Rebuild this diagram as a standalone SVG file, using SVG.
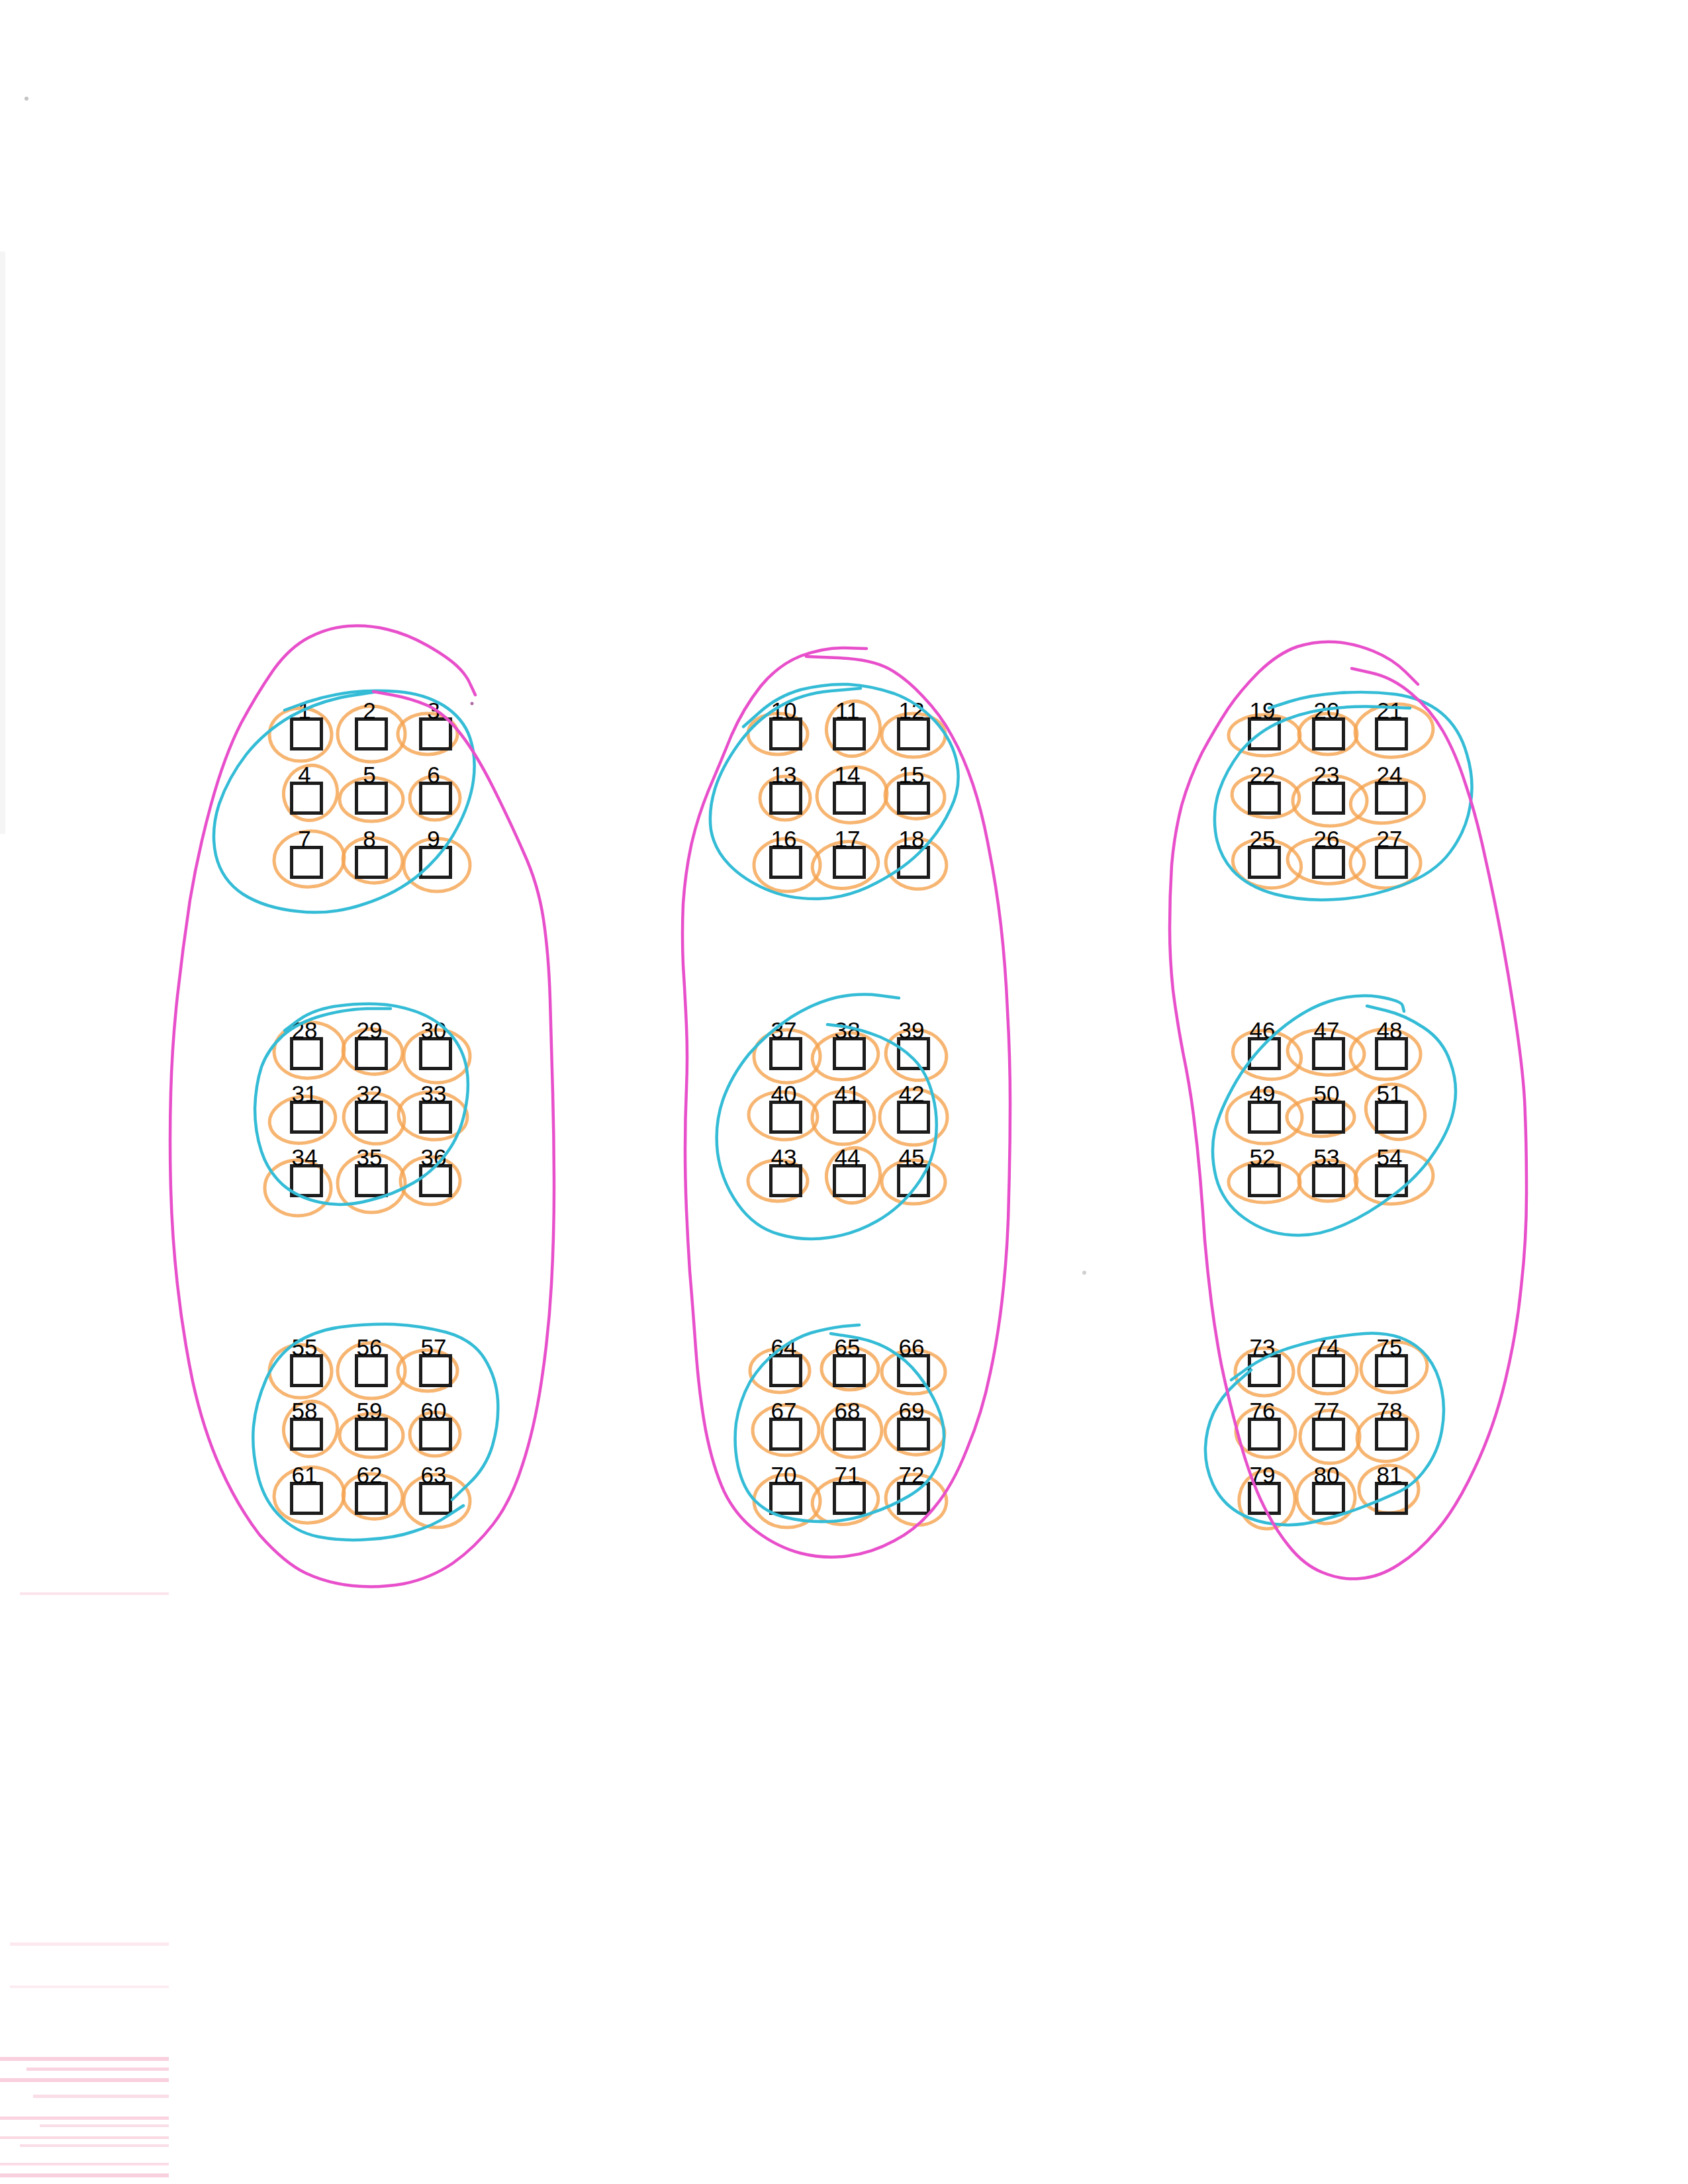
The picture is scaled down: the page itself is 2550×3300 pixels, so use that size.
<svg xmlns="http://www.w3.org/2000/svg" width="2550" height="3300" viewBox="0 0 2550 3300">
<style>
.bx{fill:none;stroke:#1c1c1c;stroke-width:5}
.lb{font-family:"Liberation Sans",Arial,sans-serif;font-size:35px;fill:#000;text-anchor:middle}
.or{fill:none;stroke:#f5a04a;stroke-width:5;stroke-opacity:.78}
.cy{fill:none;stroke:#34bcd6;stroke-width:4.5;stroke-linecap:round;stroke-linejoin:round}
.mg{fill:none;stroke:#e84fcb;stroke-width:4.5;stroke-linecap:round;stroke-linejoin:round}
.pk{fill:#f5b3c8}
</style>
<rect width="2550" height="3300" fill="#ffffff"/>

<g id="scan-marks">
<rect x="0" y="380" width="8" height="880" fill="#f5f5f5"/>
<circle cx="40" cy="149" r="3" fill="#c4c4c4"/>
<circle cx="1638" cy="1923" r="3" fill="#d0d0d0"/>
<rect x="30" y="2406" width="225" height="4" class="pk" opacity=".35"/>
<rect x="15" y="2935" width="240" height="5" class="pk" opacity=".3"/>
<rect x="15" y="3000" width="240" height="4" class="pk" opacity=".25"/>
<rect x="0" y="3108" width="255" height="6" class="pk" opacity=".6"/>
<rect x="40" y="3124" width="215" height="5" class="pk" opacity=".55"/>
<rect x="0" y="3140" width="255" height="6" class="pk" opacity=".6"/>
<rect x="50" y="3165" width="205" height="5" class="pk" opacity=".45"/>
<rect x="0" y="3198" width="255" height="5" class="pk" opacity=".55"/>
<rect x="60" y="3210" width="195" height="4" class="pk" opacity=".45"/>
<rect x="0" y="3228" width="255" height="4" class="pk" opacity=".5"/>
<rect x="30" y="3240" width="225" height="4" class="pk" opacity=".45"/>
<rect x="0" y="3268" width="255" height="4" class="pk" opacity=".45"/>
<rect x="0" y="3284" width="255" height="6" class="pk" opacity=".6"/>
</g>

<g id="orange-marks">
<ellipse class="or" cx="454" cy="1110" rx="47" ry="40"/>
<ellipse class="or" cx="561" cy="1109" rx="51" ry="42"/>
<ellipse class="or" cx="646" cy="1109" rx="45" ry="31"/>
<ellipse class="or" cx="469" cy="1198" rx="40" ry="42" transform="rotate(30 469 1198)"/>
<ellipse class="or" cx="561" cy="1208" rx="48" ry="33"/>
<ellipse class="or" cx="657" cy="1206" rx="38" ry="33"/>
<ellipse class="or" cx="467" cy="1298" rx="53" ry="42" transform="rotate(-5 467 1298)"/>
<ellipse class="or" cx="563" cy="1300" rx="45" ry="34" transform="rotate(5 563 1300)"/>
<ellipse class="or" cx="660" cy="1307" rx="50" ry="40"/>

<ellipse class="or" cx="1175" cy="1109" rx="45" ry="31"/>
<ellipse class="or" cx="1289" cy="1101" rx="40" ry="42" transform="rotate(30 1289 1101)"/>
<ellipse class="or" cx="1380" cy="1111" rx="48" ry="33"/>
<ellipse class="or" cx="1186" cy="1206" rx="38" ry="33"/>
<ellipse class="or" cx="1287" cy="1201" rx="53" ry="42" transform="rotate(-5 1287 1201)"/>
<ellipse class="or" cx="1382" cy="1203" rx="45" ry="34" transform="rotate(5 1382 1203)"/>
<ellipse class="or" cx="1189" cy="1307" rx="50" ry="40"/>
<ellipse class="or" cx="1277" cy="1307" rx="50" ry="35" transform="rotate(-8 1277 1307)"/>
<ellipse class="or" cx="1384" cy="1305" rx="46" ry="38" transform="rotate(10 1384 1305)"/>

<ellipse class="or" cx="1910" cy="1111" rx="54" ry="31"/>
<ellipse class="or" cx="2006" cy="1109" rx="44" ry="31"/>
<ellipse class="or" cx="2106" cy="1104" rx="59" ry="40" transform="rotate(-5 2106 1104)"/>
<ellipse class="or" cx="1912" cy="1203" rx="51" ry="32" transform="rotate(5 1912 1203)"/>
<ellipse class="or" cx="2009" cy="1210" rx="56" ry="38"/>
<ellipse class="or" cx="2096" cy="1210" rx="56" ry="33" transform="rotate(-8 2096 1210)"/>
<ellipse class="or" cx="1914" cy="1305" rx="52" ry="36" transform="rotate(10 1914 1305)"/>
<ellipse class="or" cx="2003" cy="1301" rx="58" ry="34" transform="rotate(4 2003 1301)"/>
<ellipse class="or" cx="2093" cy="1304" rx="53" ry="38"/>

<ellipse class="or" cx="467" cy="1587" rx="53" ry="42" transform="rotate(-5 467 1587)"/>
<ellipse class="or" cx="563" cy="1589" rx="45" ry="34" transform="rotate(5 563 1589)"/>
<ellipse class="or" cx="660" cy="1596" rx="50" ry="40"/>
<ellipse class="or" cx="457" cy="1692" rx="50" ry="35" transform="rotate(-8 457 1692)"/>
<ellipse class="or" cx="565" cy="1690" rx="46" ry="38" transform="rotate(10 565 1690)"/>
<ellipse class="or" cx="654" cy="1686" rx="52" ry="36" transform="rotate(4 654 1686)"/>
<ellipse class="or" cx="450" cy="1795" rx="50" ry="42"/>
<ellipse class="or" cx="561" cy="1788" rx="51" ry="44"/>
<ellipse class="or" cx="650" cy="1784" rx="45" ry="36"/>

<ellipse class="or" cx="1189" cy="1596" rx="50" ry="40"/>
<ellipse class="or" cx="1277" cy="1596" rx="50" ry="35" transform="rotate(-8 1277 1596)"/>
<ellipse class="or" cx="1384" cy="1594" rx="46" ry="38" transform="rotate(10 1384 1594)"/>
<ellipse class="or" cx="1183" cy="1686" rx="52" ry="36" transform="rotate(4 1183 1686)"/>
<ellipse class="or" cx="1274" cy="1689" rx="47" ry="40"/>
<ellipse class="or" cx="1380" cy="1688" rx="51" ry="42"/>
<ellipse class="or" cx="1175" cy="1784" rx="45" ry="31"/>
<ellipse class="or" cx="1289" cy="1776" rx="40" ry="42" transform="rotate(30 1289 1776)"/>
<ellipse class="or" cx="1380" cy="1786" rx="48" ry="33"/>

<ellipse class="or" cx="1914" cy="1594" rx="52" ry="36" transform="rotate(10 1914 1594)"/>
<ellipse class="or" cx="2003" cy="1590" rx="58" ry="34" transform="rotate(4 2003 1590)"/>
<ellipse class="or" cx="2093" cy="1593" rx="53" ry="38"/>
<ellipse class="or" cx="1910" cy="1688" rx="57" ry="40"/>
<ellipse class="or" cx="1995" cy="1688" rx="51" ry="29"/>
<ellipse class="or" cx="2108" cy="1680" rx="46" ry="40" transform="rotate(30 2108 1680)"/>
<ellipse class="or" cx="1910" cy="1786" rx="54" ry="31"/>
<ellipse class="or" cx="2006" cy="1784" rx="44" ry="31"/>
<ellipse class="or" cx="2106" cy="1779" rx="59" ry="40" transform="rotate(-5 2106 1779)"/>

<ellipse class="or" cx="454" cy="2072" rx="47" ry="40"/>
<ellipse class="or" cx="561" cy="2071" rx="51" ry="42"/>
<ellipse class="or" cx="646" cy="2071" rx="45" ry="31"/>
<ellipse class="or" cx="469" cy="2159" rx="40" ry="42" transform="rotate(30 469 2159)"/>
<ellipse class="or" cx="561" cy="2169" rx="48" ry="33"/>
<ellipse class="or" cx="657" cy="2167" rx="38" ry="33"/>
<ellipse class="or" cx="467" cy="2259" rx="53" ry="42" transform="rotate(-5 467 2259)"/>
<ellipse class="or" cx="563" cy="2261" rx="45" ry="34" transform="rotate(5 563 2261)"/>
<ellipse class="or" cx="660" cy="2268" rx="50" ry="40"/>

<ellipse class="or" cx="1178" cy="2071" rx="45" ry="33"/>
<ellipse class="or" cx="1284" cy="2068" rx="43" ry="32"/>
<ellipse class="or" cx="1380" cy="2073" rx="48" ry="33"/>
<ellipse class="or" cx="1187" cy="2161" rx="50" ry="38"/>
<ellipse class="or" cx="1287" cy="2162" rx="45" ry="40" transform="rotate(-5 1287 2162)"/>
<ellipse class="or" cx="1382" cy="2164" rx="45" ry="34" transform="rotate(5 1382 2164)"/>
<ellipse class="or" cx="1189" cy="2268" rx="50" ry="40"/>
<ellipse class="or" cx="1277" cy="2268" rx="50" ry="35" transform="rotate(-8 1277 2268)"/>
<ellipse class="or" cx="1384" cy="2266" rx="46" ry="38" transform="rotate(10 1384 2266)"/>

<ellipse class="or" cx="1910" cy="2073" rx="44" ry="36"/>
<ellipse class="or" cx="2006" cy="2071" rx="44" ry="35"/>
<ellipse class="or" cx="2106" cy="2066" rx="50" ry="38" transform="rotate(-5 2106 2066)"/>
<ellipse class="or" cx="1912" cy="2164" rx="45" ry="38" transform="rotate(5 1912 2164)"/>
<ellipse class="or" cx="2009" cy="2171" rx="45" ry="40"/>
<ellipse class="or" cx="2096" cy="2171" rx="46" ry="37" transform="rotate(-8 2096 2171)"/>
<ellipse class="or" cx="1914" cy="2266" rx="42" ry="44" transform="rotate(10 1914 2266)"/>
<ellipse class="or" cx="2003" cy="2262" rx="44" ry="40" transform="rotate(4 2003 2262)"/>
<ellipse class="or" cx="2098" cy="2250" rx="45" ry="36"/>
</g>

<g id="nodes">
<g id="n1"><rect class="bx" x="440.5" y="1086.5" width="45" height="45"/><text class="lb" x="460" y="1086">1</text></g>
<g id="n2"><rect class="bx" x="538.5" y="1086.5" width="45" height="45"/><text class="lb" x="558" y="1086">2</text></g>
<g id="n3"><rect class="bx" x="635.5" y="1086.5" width="45" height="45"/><text class="lb" x="655" y="1086">3</text></g>
<g id="n4"><rect class="bx" x="440.5" y="1183.5" width="45" height="45"/><text class="lb" x="460" y="1183">4</text></g>
<g id="n5"><rect class="bx" x="538.5" y="1183.5" width="45" height="45"/><text class="lb" x="558" y="1183">5</text></g>
<g id="n6"><rect class="bx" x="635.5" y="1183.5" width="45" height="45"/><text class="lb" x="655" y="1183">6</text></g>
<g id="n7"><rect class="bx" x="440.5" y="1280.5" width="45" height="45"/><text class="lb" x="460" y="1280">7</text></g>
<g id="n8"><rect class="bx" x="538.5" y="1280.5" width="45" height="45"/><text class="lb" x="558" y="1280">8</text></g>
<g id="n9"><rect class="bx" x="635.5" y="1280.5" width="45" height="45"/><text class="lb" x="655" y="1280">9</text></g>

<g id="n10"><rect class="bx" x="1164.5" y="1086.5" width="45" height="45"/><text class="lb" x="1184" y="1086">10</text></g>
<g id="n11"><rect class="bx" x="1260.5" y="1086.5" width="45" height="45"/><text class="lb" x="1280" y="1086">11</text></g>
<g id="n12"><rect class="bx" x="1357.5" y="1086.5" width="45" height="45"/><text class="lb" x="1377" y="1086">12</text></g>
<g id="n13"><rect class="bx" x="1164.5" y="1183.5" width="45" height="45"/><text class="lb" x="1184" y="1183">13</text></g>
<g id="n14"><rect class="bx" x="1260.5" y="1183.5" width="45" height="45"/><text class="lb" x="1280" y="1183">14</text></g>
<g id="n15"><rect class="bx" x="1357.5" y="1183.5" width="45" height="45"/><text class="lb" x="1377" y="1183">15</text></g>
<g id="n16"><rect class="bx" x="1164.5" y="1280.5" width="45" height="45"/><text class="lb" x="1184" y="1280">16</text></g>
<g id="n17"><rect class="bx" x="1260.5" y="1280.5" width="45" height="45"/><text class="lb" x="1280" y="1280">17</text></g>
<g id="n18"><rect class="bx" x="1357.5" y="1280.5" width="45" height="45"/><text class="lb" x="1377" y="1280">18</text></g>

<g id="n19"><rect class="bx" x="1887.5" y="1086.5" width="45" height="45"/><text class="lb" x="1907" y="1086">19</text></g>
<g id="n20"><rect class="bx" x="1984.5" y="1086.5" width="45" height="45"/><text class="lb" x="2004" y="1086">20</text></g>
<g id="n21"><rect class="bx" x="2079.5" y="1086.5" width="45" height="45"/><text class="lb" x="2099" y="1086">21</text></g>
<g id="n22"><rect class="bx" x="1887.5" y="1183.5" width="45" height="45"/><text class="lb" x="1907" y="1183">22</text></g>
<g id="n23"><rect class="bx" x="1984.5" y="1183.5" width="45" height="45"/><text class="lb" x="2004" y="1183">23</text></g>
<g id="n24"><rect class="bx" x="2079.5" y="1183.5" width="45" height="45"/><text class="lb" x="2099" y="1183">24</text></g>
<g id="n25"><rect class="bx" x="1887.5" y="1280.5" width="45" height="45"/><text class="lb" x="1907" y="1280">25</text></g>
<g id="n26"><rect class="bx" x="1984.5" y="1280.5" width="45" height="45"/><text class="lb" x="2004" y="1280">26</text></g>
<g id="n27"><rect class="bx" x="2079.5" y="1280.5" width="45" height="45"/><text class="lb" x="2099" y="1280">27</text></g>

<g id="n28"><rect class="bx" x="440.5" y="1569.5" width="45" height="45"/><text class="lb" x="460" y="1569">28</text></g>
<g id="n29"><rect class="bx" x="538.5" y="1569.5" width="45" height="45"/><text class="lb" x="558" y="1569">29</text></g>
<g id="n30"><rect class="bx" x="635.5" y="1569.5" width="45" height="45"/><text class="lb" x="655" y="1569">30</text></g>
<g id="n31"><rect class="bx" x="440.5" y="1665.5" width="45" height="45"/><text class="lb" x="460" y="1665">31</text></g>
<g id="n32"><rect class="bx" x="538.5" y="1665.5" width="45" height="45"/><text class="lb" x="558" y="1665">32</text></g>
<g id="n33"><rect class="bx" x="635.5" y="1665.5" width="45" height="45"/><text class="lb" x="655" y="1665">33</text></g>
<g id="n34"><rect class="bx" x="440.5" y="1761.5" width="45" height="45"/><text class="lb" x="460" y="1761">34</text></g>
<g id="n35"><rect class="bx" x="538.5" y="1761.5" width="45" height="45"/><text class="lb" x="558" y="1761">35</text></g>
<g id="n36"><rect class="bx" x="635.5" y="1761.5" width="45" height="45"/><text class="lb" x="655" y="1761">36</text></g>

<g id="n37"><rect class="bx" x="1164.5" y="1569.5" width="45" height="45"/><text class="lb" x="1184" y="1569">37</text></g>
<g id="n38"><rect class="bx" x="1260.5" y="1569.5" width="45" height="45"/><text class="lb" x="1280" y="1569">38</text></g>
<g id="n39"><rect class="bx" x="1357.5" y="1569.5" width="45" height="45"/><text class="lb" x="1377" y="1569">39</text></g>
<g id="n40"><rect class="bx" x="1164.5" y="1665.5" width="45" height="45"/><text class="lb" x="1184" y="1665">40</text></g>
<g id="n41"><rect class="bx" x="1260.5" y="1665.5" width="45" height="45"/><text class="lb" x="1280" y="1665">41</text></g>
<g id="n42"><rect class="bx" x="1357.5" y="1665.5" width="45" height="45"/><text class="lb" x="1377" y="1665">42</text></g>
<g id="n43"><rect class="bx" x="1164.5" y="1761.5" width="45" height="45"/><text class="lb" x="1184" y="1761">43</text></g>
<g id="n44"><rect class="bx" x="1260.5" y="1761.5" width="45" height="45"/><text class="lb" x="1280" y="1761">44</text></g>
<g id="n45"><rect class="bx" x="1357.5" y="1761.5" width="45" height="45"/><text class="lb" x="1377" y="1761">45</text></g>

<g id="n46"><rect class="bx" x="1887.5" y="1569.5" width="45" height="45"/><text class="lb" x="1907" y="1569">46</text></g>
<g id="n47"><rect class="bx" x="1984.5" y="1569.5" width="45" height="45"/><text class="lb" x="2004" y="1569">47</text></g>
<g id="n48"><rect class="bx" x="2079.5" y="1569.5" width="45" height="45"/><text class="lb" x="2099" y="1569">48</text></g>
<g id="n49"><rect class="bx" x="1887.5" y="1665.5" width="45" height="45"/><text class="lb" x="1907" y="1665">49</text></g>
<g id="n50"><rect class="bx" x="1984.5" y="1665.5" width="45" height="45"/><text class="lb" x="2004" y="1665">50</text></g>
<g id="n51"><rect class="bx" x="2079.5" y="1665.5" width="45" height="45"/><text class="lb" x="2099" y="1665">51</text></g>
<g id="n52"><rect class="bx" x="1887.5" y="1761.5" width="45" height="45"/><text class="lb" x="1907" y="1761">52</text></g>
<g id="n53"><rect class="bx" x="1984.5" y="1761.5" width="45" height="45"/><text class="lb" x="2004" y="1761">53</text></g>
<g id="n54"><rect class="bx" x="2079.5" y="1761.5" width="45" height="45"/><text class="lb" x="2099" y="1761">54</text></g>

<g id="n55"><rect class="bx" x="440.5" y="2048.5" width="45" height="45"/><text class="lb" x="460" y="2048">55</text></g>
<g id="n56"><rect class="bx" x="538.5" y="2048.5" width="45" height="45"/><text class="lb" x="558" y="2048">56</text></g>
<g id="n57"><rect class="bx" x="635.5" y="2048.5" width="45" height="45"/><text class="lb" x="655" y="2048">57</text></g>
<g id="n58"><rect class="bx" x="440.5" y="2144.5" width="45" height="45"/><text class="lb" x="460" y="2144">58</text></g>
<g id="n59"><rect class="bx" x="538.5" y="2144.5" width="45" height="45"/><text class="lb" x="558" y="2144">59</text></g>
<g id="n60"><rect class="bx" x="635.5" y="2144.5" width="45" height="45"/><text class="lb" x="655" y="2144">60</text></g>
<g id="n61"><rect class="bx" x="440.5" y="2241.5" width="45" height="45"/><text class="lb" x="460" y="2241">61</text></g>
<g id="n62"><rect class="bx" x="538.5" y="2241.5" width="45" height="45"/><text class="lb" x="558" y="2241">62</text></g>
<g id="n63"><rect class="bx" x="635.5" y="2241.5" width="45" height="45"/><text class="lb" x="655" y="2241">63</text></g>

<g id="n64"><rect class="bx" x="1164.5" y="2048.5" width="45" height="45"/><text class="lb" x="1184" y="2048">64</text></g>
<g id="n65"><rect class="bx" x="1260.5" y="2048.5" width="45" height="45"/><text class="lb" x="1280" y="2048">65</text></g>
<g id="n66"><rect class="bx" x="1357.5" y="2048.5" width="45" height="45"/><text class="lb" x="1377" y="2048">66</text></g>
<g id="n67"><rect class="bx" x="1164.5" y="2144.5" width="45" height="45"/><text class="lb" x="1184" y="2144">67</text></g>
<g id="n68"><rect class="bx" x="1260.5" y="2144.5" width="45" height="45"/><text class="lb" x="1280" y="2144">68</text></g>
<g id="n69"><rect class="bx" x="1357.5" y="2144.5" width="45" height="45"/><text class="lb" x="1377" y="2144">69</text></g>
<g id="n70"><rect class="bx" x="1164.5" y="2241.5" width="45" height="45"/><text class="lb" x="1184" y="2241">70</text></g>
<g id="n71"><rect class="bx" x="1260.5" y="2241.5" width="45" height="45"/><text class="lb" x="1280" y="2241">71</text></g>
<g id="n72"><rect class="bx" x="1357.5" y="2241.5" width="45" height="45"/><text class="lb" x="1377" y="2241">72</text></g>

<g id="n73"><rect class="bx" x="1887.5" y="2048.5" width="45" height="45"/><text class="lb" x="1907" y="2048">73</text></g>
<g id="n74"><rect class="bx" x="1984.5" y="2048.5" width="45" height="45"/><text class="lb" x="2004" y="2048">74</text></g>
<g id="n75"><rect class="bx" x="2079.5" y="2048.5" width="45" height="45"/><text class="lb" x="2099" y="2048">75</text></g>
<g id="n76"><rect class="bx" x="1887.5" y="2144.5" width="45" height="45"/><text class="lb" x="1907" y="2144">76</text></g>
<g id="n77"><rect class="bx" x="1984.5" y="2144.5" width="45" height="45"/><text class="lb" x="2004" y="2144">77</text></g>
<g id="n78"><rect class="bx" x="2079.5" y="2144.5" width="45" height="45"/><text class="lb" x="2099" y="2144">78</text></g>
<g id="n79"><rect class="bx" x="1887.5" y="2241.5" width="45" height="45"/><text class="lb" x="1907" y="2241">79</text></g>
<g id="n80"><rect class="bx" x="1984.5" y="2241.5" width="45" height="45"/><text class="lb" x="2004" y="2241">80</text></g>
<g id="n81"><rect class="bx" x="2079.5" y="2241.5" width="45" height="45"/><text class="lb" x="2099" y="2241">81</text></g>
</g>

<g id="connectors">
<path class="cy" d="M430,1073 L463,1061 Q497,1050 530,1046 Q563,1042 601,1045 Q640,1048 670,1066 Q700,1085 710,1115 Q720,1145 715,1180 Q710,1215 690,1252 Q670,1290 635,1320 Q600,1350 550,1366 Q500,1383 450,1377 Q400,1372 367,1351 Q335,1330 326,1292 Q318,1255 331,1215 Q345,1175 372,1140 Q400,1105 440,1082 Q480,1060 525,1052 L570,1045"/>
<path class="cy" d="M1123,1098 L1149,1075 Q1175,1052 1210,1042 Q1246,1033 1281,1034 Q1316,1036 1351,1048 Q1386,1061 1413,1090 Q1440,1120 1446,1155 Q1452,1190 1436,1222 Q1421,1255 1394,1283 Q1368,1311 1324,1334 Q1281,1357 1237,1358 Q1193,1359 1158,1344 Q1123,1329 1101,1306 Q1079,1283 1074,1254 Q1070,1225 1080,1192 Q1090,1160 1115,1125 Q1140,1090 1175,1069 Q1210,1048 1255,1044 L1300,1040"/>
<path class="cy" d="M1917,1070 L1948,1060 Q1980,1050 2023,1047 Q2067,1044 2108,1049 Q2150,1055 2177,1077 Q2205,1100 2216,1140 Q2228,1180 2221,1217 Q2215,1255 2191,1287 Q2167,1320 2117,1338 Q2067,1357 2017,1359 Q1967,1362 1926,1351 Q1885,1340 1862,1315 Q1840,1290 1836,1256 Q1832,1223 1842,1194 Q1852,1165 1873,1137 Q1895,1110 1927,1094 Q1960,1078 2000,1072 Q2040,1066 2085,1068 L2130,1070"/>
<path class="cy" d="M430,1557 L450,1542 Q470,1527 503,1521 Q537,1516 568,1517 Q600,1518 630,1529 Q660,1540 680,1562 Q700,1585 705,1615 Q710,1645 702,1680 Q695,1715 675,1742 Q655,1770 625,1787 Q595,1805 557,1814 Q520,1824 485,1817 Q450,1810 427,1790 Q405,1770 395,1740 Q385,1710 385,1675 Q386,1640 395,1612 Q405,1585 427,1565 Q450,1545 485,1535 Q520,1525 555,1524 L590,1524"/>
<path class="cy" d="M1358,1508 L1328,1504 Q1298,1500 1264,1507 Q1230,1515 1195,1537 Q1160,1560 1132,1592 Q1105,1625 1092,1662 Q1079,1700 1084,1742 Q1090,1785 1115,1820 Q1140,1855 1177,1865 Q1215,1876 1252,1870 Q1290,1865 1325,1845 Q1360,1825 1384,1792 Q1408,1760 1413,1725 Q1418,1690 1409,1655 Q1400,1620 1380,1600 Q1360,1580 1330,1567 Q1300,1555 1275,1551 L1250,1548"/>
<path class="cy" d="M2121,1528 L2119,1520 Q2118,1512 2082,1506 Q2046,1501 2008,1513 Q1970,1525 1931,1558 Q1893,1591 1868,1633 Q1843,1676 1835,1709 Q1828,1742 1837,1779 Q1847,1817 1879,1840 Q1912,1864 1950,1866 Q1989,1869 2027,1852 Q2065,1836 2103,1807 Q2142,1779 2167,1741 Q2192,1704 2197,1671 Q2203,1638 2191,1605 Q2180,1572 2151,1553 Q2123,1534 2094,1527 L2065,1520"/>
<path class="cy" d="M683,2266 L708,2242 Q734,2218 744,2184 Q754,2150 752,2116 Q750,2082 732,2053 Q714,2024 674,2013 Q635,2003 595,2001 Q556,2000 516,2005 Q477,2010 447,2029 Q418,2048 402,2084 Q386,2121 383,2155 Q380,2189 389,2227 Q398,2266 422,2290 Q446,2315 481,2322 Q517,2329 556,2326 Q596,2324 625,2314 Q655,2305 677,2290 L700,2275"/>
<path class="cy" d="M1298,2002 L1274,2004 Q1250,2007 1225,2014 Q1200,2022 1175,2041 Q1150,2060 1133,2088 Q1117,2117 1112,2150 Q1108,2183 1115,2216 Q1123,2250 1141,2268 Q1160,2287 1188,2293 Q1217,2300 1250,2299 Q1283,2298 1314,2287 Q1345,2277 1372,2261 Q1400,2245 1412,2222 Q1425,2200 1426,2175 Q1427,2150 1416,2125 Q1405,2100 1387,2077 Q1370,2055 1345,2040 Q1320,2025 1287,2020 L1255,2015"/>
<path class="cy" d="M1860,2085 L1885,2067 Q1910,2050 1938,2040 Q1967,2030 2000,2023 Q2033,2017 2061,2015 Q2090,2013 2115,2021 Q2140,2030 2156,2050 Q2172,2070 2178,2100 Q2184,2130 2178,2162 Q2172,2195 2153,2220 Q2135,2245 2109,2256 Q2083,2268 2056,2278 Q2030,2288 1995,2297 Q1960,2307 1927,2303 Q1895,2300 1870,2285 Q1845,2270 1832,2242 Q1820,2215 1821,2187 Q1822,2160 1833,2135 Q1845,2110 1867,2090 L1890,2070"/>

<path class="mg" d="M564,1045 L592,1050 Q620,1055 646,1066 Q672,1078 696,1109 Q720,1140 745,1190 Q770,1240 791,1288 Q813,1336 821,1389 Q829,1443 831,1510 Q833,1578 835,1651 Q837,1724 837,1796 Q837,1869 833,1941 Q829,2014 818,2087 Q807,2160 789,2214 Q772,2268 745,2303 Q718,2338 684,2362 Q650,2385 610,2393 Q570,2400 532,2396 Q494,2392 462,2377 Q430,2362 392,2319 Q359,2276 333,2218 Q307,2160 291,2087 Q276,2014 268,1941 Q260,1869 258,1796 Q256,1724 258,1651 Q260,1578 268,1505 Q276,1433 287,1360 Q299,1288 319,1215 Q339,1142 364,1093 Q390,1045 414,1011 Q438,978 467,963 Q497,948 526,946 Q556,944 585,951 Q615,958 645,975 Q675,992 690,1006 Q705,1020 711,1035 L718,1050"/>
<circle cx="713" cy="1063" r="2.5" fill="#b06aa8"/>
<path class="mg" d="M1218,992 L1267,994 Q1316,996 1342,1010 Q1368,1024 1394,1052 Q1421,1080 1438,1112 Q1456,1144 1470,1186 Q1484,1228 1494,1283 Q1505,1338 1512,1398 Q1519,1459 1522,1528 Q1526,1598 1526,1667 Q1526,1736 1524,1805 Q1523,1875 1516,1944 Q1509,2014 1496,2074 Q1484,2134 1461,2189 Q1439,2245 1412,2277 Q1386,2310 1351,2328 Q1316,2347 1281,2351 Q1246,2356 1210,2347 Q1175,2338 1143,2314 Q1112,2291 1094,2254 Q1077,2217 1066,2161 Q1056,2106 1051,2037 Q1046,1968 1042,1921 Q1039,1875 1037,1829 Q1035,1783 1035,1736 Q1035,1690 1037,1644 Q1039,1598 1037,1551 Q1035,1505 1032,1458 Q1030,1412 1032,1366 Q1035,1320 1044,1278 Q1053,1237 1070,1195 Q1088,1153 1105,1111 Q1123,1070 1149,1037 Q1175,1005 1210,991 Q1246,978 1277,979 L1309,980"/>
<path class="mg" d="M2042,1010 L2073,1017 Q2104,1024 2132,1048 Q2161,1072 2180,1105 Q2199,1138 2214,1185 Q2230,1232 2243,1293 Q2257,1355 2270,1425 Q2283,1496 2293,1567 Q2303,1638 2304,1685 Q2306,1732 2306,1803 Q2306,1874 2298,1944 Q2291,2015 2274,2086 Q2257,2157 2228,2218 Q2199,2280 2170,2313 Q2142,2346 2113,2364 Q2084,2383 2055,2385 Q2027,2388 1998,2376 Q1970,2365 1947,2336 Q1924,2308 1904,2265 Q1885,2223 1870,2166 Q1855,2110 1845,2062 Q1836,2015 1830,1968 Q1824,1921 1820,1874 Q1817,1827 1813,1779 Q1809,1732 1803,1685 Q1797,1638 1787,1590 Q1778,1543 1772,1496 Q1767,1449 1767,1402 Q1767,1355 1770,1307 Q1774,1260 1785,1217 Q1797,1175 1816,1137 Q1836,1100 1855,1071 Q1874,1043 1902,1015 Q1931,987 1960,977 Q1989,968 2017,970 Q2046,972 2075,984 Q2104,996 2123,1015 L2142,1034"/>
</g>
</svg>
